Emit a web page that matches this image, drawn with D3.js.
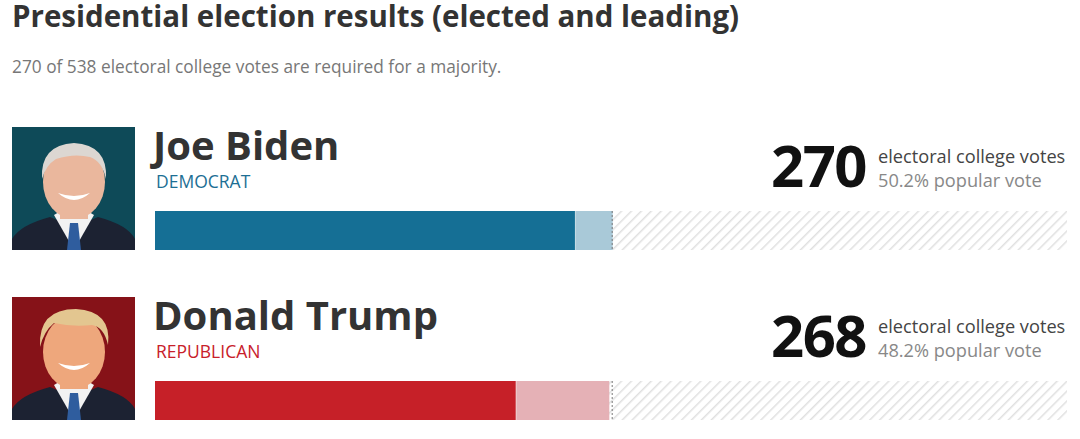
<!DOCTYPE html>
<html>
<head>
<meta charset="utf-8">
<script src="https://cdn.jsdelivr.net/npm/d3@7"></script>
<style>
  body, html {
    padding: 0;
    margin: 0;
    background: #fff;
  }
  svg {
    display: block;
    font-family: "Open Sans", "Noto Sans", sans-serif;
  }
</style>
</head>
<body>
<svg width="1080" height="439"></svg>

<script>

  // data
  var candidates = ['Joe Biden', 'Donald Trump'],
      parties = ['DEMOCRAT', 'REPUBLICAN'],
      elected = [248, 213],
      leading = [270, 268],
      popular = ['50.2%', '48.2%'],
      totalVotes = 538,
      majority = 270;

  var dark = ['#156f95', '#c62028'],
      light = ['#a9c9d8', '#e5b1b6'],
      partyText = ['#1d6f94', '#c8202a'],
      photoBg = ['#0e4a58', '#861218'],
      skin = ['#eab79d', '#eea77c'],
      hair = ['#dcd7d2', '#e3c690'];

  var svg = d3.select('svg');

  var x = d3.scaleLinear().domain([0, totalVotes]).range([155, 1067]);
  var row = d3.scaleOrdinal().domain([0, 1]).range([0, 170]);

  // hatch pattern for the remaining votes
  var pat = svg.append('defs').append('pattern')
      .attr('id', 'hatch')
      .attr('patternUnits', 'userSpaceOnUse')
      .attr('width', 7).attr('height', 7)
      .attr('patternTransform', 'rotate(45)');
  pat.append('rect').attr('width', 7).attr('height', 7).attr('fill', '#fff');
  pat.append('line')
      .attr('x1', 0).attr('y1', 0).attr('x2', 0).attr('y2', 7)
      .attr('stroke', '#e0e0e0').attr('stroke-width', 3);

  svg.append('text')
      .attr('x', 12).attr('y', 27)
      .attr('font-size', 29.5).attr('font-weight', 700).attr('fill', '#333')
      .text('Presidential election results (elected and leading)');

  svg.append('text')
      .attr('x', 12).attr('y', 73)
      .attr('font-size', 17.3).attr('fill', '#777')
      .text(majority + ' of ' + totalVotes + ' electoral college votes are required for a majority.');

  var rows = svg.selectAll('g.cand')
    .data(candidates)
    .enter().append('g')
      .attr('class', 'cand')
      .attr('transform', function (d, i) { return 'translate(0,' + row(i) + ')'; });

  // portraits (stylised)
  rows.each(function (d, i) {
    var g = d3.select(this).append('g').attr('transform', 'translate(12,127)');
    g.append('clipPath').attr('id', 'clip' + i)
      .append('rect').attr('width', 123).attr('height', 123);
    var p = g.append('g').attr('clip-path', 'url(#clip' + i + ')');
    p.append('rect').attr('width', 123).attr('height', 123).attr('fill', photoBg[i]);
    p.append('path')
      .attr('d', 'M0,123 L0,112 Q8,98 38,90 L62,100 L86,90 Q116,98 123,112 L123,123 Z')
      .attr('fill', '#1c2232');
    p.append('path')
      .attr('d', 'M42,88 L62,123 L82,88 L72,82 L52,82 Z')
      .attr('fill', '#f2f2f2');
    p.append('path')
      .attr('d', 'M58,96 L66,96 L69,123 L55,123 Z')
      .attr('fill', '#2f5d9e');
    p.append('rect').attr('x', 48).attr('y', 70).attr('width', 28).attr('height', 22)
      .attr('fill', skin[i]);
    p.append('ellipse').attr('cx', 62).attr('cy', 55).attr('rx', 31).attr('ry', 37)
      .attr('fill', skin[i]);
    p.append('path')
      .attr('d', i === 0
        ? 'M30,52 Q28,18 62,16 Q96,18 94,52 Q90,34 78,30 Q62,26 44,32 Q34,38 30,52 Z'
        : 'M28,50 Q26,12 64,12 Q100,14 96,48 Q92,30 80,28 Q60,30 42,26 Q32,34 28,50 Z')
      .attr('fill', hair[i]);
    p.append('path')
      .attr('d', 'M46,66 Q62,80 78,66 Q62,72 46,66 Z')
      .attr('fill', '#fff');
  });

  rows.append('text')
      .attr('x', 153).attr('y', 160)
      .attr('font-size', 40).attr('font-weight', 700).attr('fill', '#333')
      .text(function (d) { return d; });

  rows.append('text')
      .attr('x', 156).attr('y', 188)
      .attr('font-size', 17.5)
      .attr('fill', function (d, i) { return partyText[i]; })
      .text(function (d, i) { return parties[i]; });

  rows.append('text')
      .attr('x', 866).attr('y', 187)
      .attr('text-anchor', 'end')
      .attr('font-size', 58).attr('font-weight', 700).attr('fill', '#111')
      .attr('letter-spacing', -1.5)
      .text(function (d, i) { return leading[i]; });

  rows.append('text')
      .attr('x', 878).attr('y', 163)
      .attr('font-size', 18.2).attr('fill', '#444')
      .text('electoral college votes');

  rows.append('text')
      .attr('x', 878).attr('y', 187)
      .attr('font-size', 18.2).attr('fill', '#888')
      .text(function (d, i) { return popular[i] + ' popular vote'; });

  // bars
  var barY = 211, barH = 39;

  rows.append('rect')
      .attr('x', x(0)).attr('y', barY)
      .attr('width', x(totalVotes) - x(0)).attr('height', barH)
      .attr('fill', 'url(#hatch)');

  rows.append('rect')
      .attr('x', function (d, i) { return x(elected[i]); })
      .attr('y', barY)
      .attr('width', function (d, i) { return x(leading[i]) - x(elected[i]); })
      .attr('height', barH)
      .attr('fill', function (d, i) { return light[i]; });

  rows.append('rect')
      .attr('x', x(0)).attr('y', barY)
      .attr('width', function (d, i) { return x(elected[i]) - x(0); })
      .attr('height', barH)
      .attr('fill', function (d, i) { return dark[i]; });

  rows.append('line')
      .attr('x1', function (d, i) { return x(elected[i]); })
      .attr('x2', function (d, i) { return x(elected[i]); })
      .attr('y1', barY).attr('y2', barY + barH)
      .attr('stroke', '#fff').attr('stroke-opacity', 0.6).attr('stroke-width', 1);

  rows.append('line')
      .attr('x1', x(majority) - 0.5).attr('x2', x(majority) - 0.5)
      .attr('y1', barY).attr('y2', barY + barH)
      .attr('stroke', '#777').attr('stroke-width', 1)
      .attr('stroke-dasharray', '2,2');

</script>
</body>
</html>
